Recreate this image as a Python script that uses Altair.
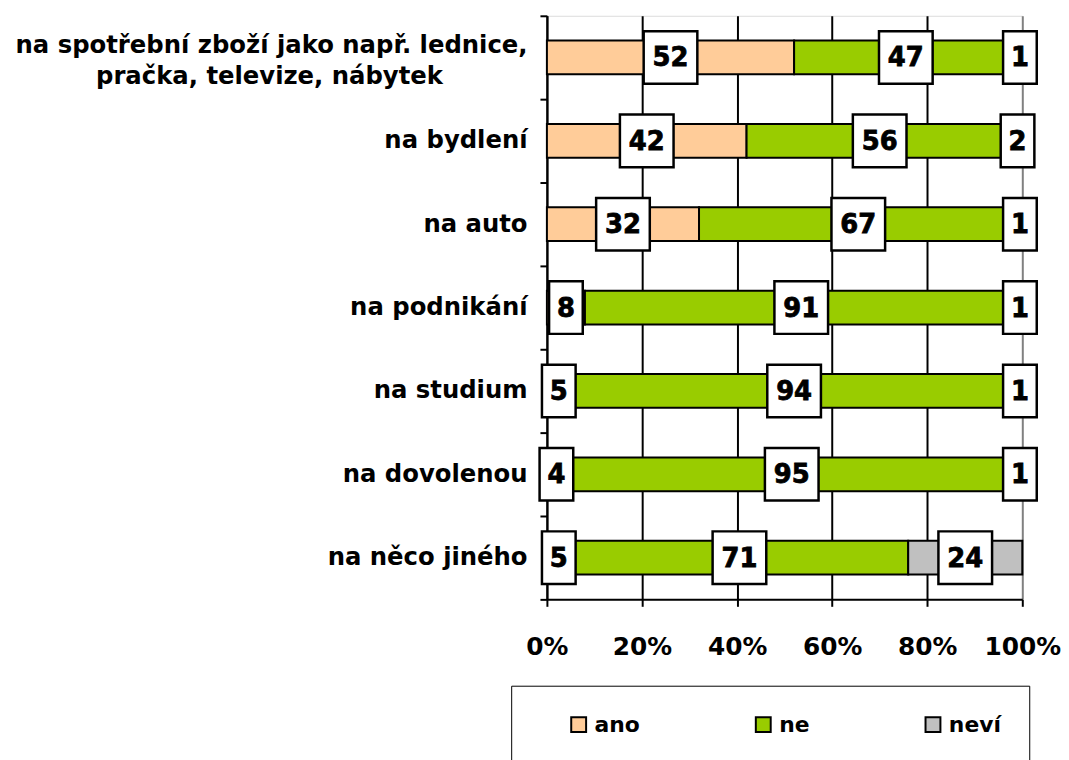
import altair as alt
import pandas as pd

category_lines = [
    ["na spotřební zboží jako např. lednice,", "pračka, televize, nábytek"],
    ["na bydlení"],
    ["na auto"],
    ["na podnikání"],
    ["na studium"],
    ["na dovolenou"],
    ["na něco jiného"],
]
categories = [" ".join(l) for l in category_lines]
series = ["ano", "ne", "neví"]
ano = [52, 42, 32, 8, 5, 4, 5]
ne = [47, 56, 67, 91, 94, 95, 71]
nevi = [1, 2, 1, 1, 1, 1, 24]
colors = ["#FFCC99", "#99CC00", "#C0C0C0"]
x_ticks = [0, 20, 40, 60, 80, 100]

rows = []
for i, c in enumerate(categories):
    for j, (s, vals) in enumerate(zip(series, [ano, ne, nevi])):
        rows.append({"category": c, "series": s, "value": vals[i], "order": j})
df = pd.DataFrame(rows)

# multi-line label expression (second line padded so that it looks centred)
pad = "\u00a0" * 10 + "\u2060"
expr = "datum.label"
multi = []
for lines, full in zip(category_lines, categories):
    if len(lines) > 1:
        multi.append(full)
        parts = [lines[0]] + [l + pad for l in lines[1:]]
        arr = "[" + ",".join("'" + p + "'" for p in parts) + "]"
        expr = f"datum.value == '{full}' ? {arr} : " + expr
multi_test = " || ".join(f"datum.value == '{m}'" for m in multi) or "false"

FONT = "DejaVu Sans"

base = (
    alt.Chart(df)
    .transform_stack(
        stack="value",
        groupby=["category"],
        as_=["x0", "x1"],
        sort=[alt.SortField("order", order="ascending")],
        offset="zero",
    )
    .transform_calculate(mid="(datum.x0 + datum.x1) / 2")
)

x_scale = alt.Scale(domain=[0, 100], nice=False, zero=True)
y_enc = alt.Y(
    "category:N",
    sort=categories,
    scale=alt.Scale(paddingInner=0, paddingOuter=0),
    axis=alt.Axis(
        title=None,
        grid=False,
        tickBand="extent",
        domainColor="black",
        domainWidth=2,
        tickColor="black",
        tickWidth=2,
        tickSize=7,
        labelFont=FONT,
        labelFontSize=24.5,
        labelFontWeight="bold",
        labelColor="black",
        labelPadding=13,
        labelLimit=700,
        labelLineHeight=31,
        labelExpr=expr,
        labelOffset={"condition": {"test": multi_test, "value": -12}, "value": 0},
    ),
)

x_axis = alt.Axis(
    values=x_ticks,
    labelExpr="datum.value + '%'",
    title=None,
    domainColor="black",
    domainWidth=2,
    tickColor="black",
    tickWidth=2,
    tickSize=7,
    labelFont=FONT,
    labelFontSize=25,
    labelFontWeight="bold",
    labelColor="black",
    labelPadding=29,
    labelFlush=False,
    grid=True,
    gridColor={"condition": {"test": "datum.value == 100", "value": "#808080"}, "value": "black"},
    gridWidth=2,
    gridOpacity=1,
)

bars = base.mark_bar(size=34, stroke="black", strokeWidth=2).encode(
    x=alt.X("x0:Q", scale=x_scale, axis=x_axis),
    x2="x1:Q",
    y=y_enc,
    color=alt.Color(
        "series:N",
        scale=alt.Scale(domain=series, range=colors),
        legend=alt.Legend(
            title=None,
            orient="none",
            legendX=-36,
            legendY=675,
            direction="horizontal",
            symbolType="square",
            symbolSize=225,
            symbolStrokeColor="black",
            symbolStrokeWidth=2,
            symbolOffset=29,
            labelFont=FONT,
            labelFontSize=22,
            labelFontWeight="bold",
            labelColor="black",
            labelOffset=5,
            columnPadding=84,
            padding=28,
            strokeColor="black",
            fillColor="white",
        ),
    ),
)

box_style = dict(
    size=2809,
    filled=True,
    fill="white",
    stroke="black",
    strokeWidth=2.5,
    opacity=1,
    fillOpacity=1,
    strokeOpacity=1,
)

box_wide = (
    base.transform_filter("datum.value >= 10")
    .mark_point(shape="M-1.02,-1H1.02V1H-1.02Z", **box_style)
    .encode(x=alt.X("mid:Q", scale=x_scale, axis=x_axis), y=y_enc)
)

box_narrow = (
    base.transform_filter("datum.value < 10")
    .mark_point(shape="M-0.64,-1H0.64V1H-0.64Z", **box_style)
    .encode(x=alt.X("mid:Q", scale=x_scale, axis=x_axis), y=y_enc)
)

labels = base.mark_text(
    font=FONT,
    fontSize=26,
    fontWeight="bold",
    color="black",
    stroke="black",
    strokeWidth=0.8,
    baseline="middle",
    dy=1,
).encode(
    x=alt.X("mid:Q", scale=x_scale, axis=x_axis),
    y=y_enc,
    text=alt.Text("value:Q"),
)

chart = (
    alt.layer(bars, box_narrow, box_wide, labels)
    .properties(
        width=479,
        height=588,
        autosize=alt.AutoSizeParams(type="none"),
        padding={"left": 543, "top": 5, "right": 39, "bottom": 159},
    )
    .configure_view(stroke="#808080", strokeWidth=2)
    .configure_legend(strokeWidth=2)
    .configure(font=FONT, background="white")
)

chart.save("out.html", embed_options={"renderer": "svg", "actions": False})
